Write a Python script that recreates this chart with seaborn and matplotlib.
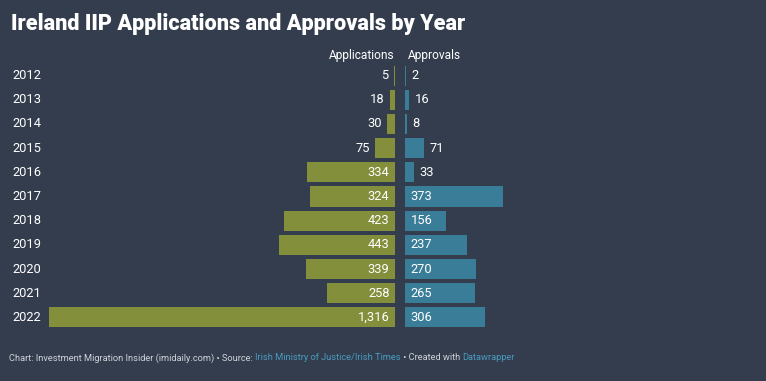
import matplotlib
matplotlib.use('Agg')
import matplotlib.pyplot as plt
import seaborn as sns
import pandas as pd

# data
years = ['2012', '2013', '2014', '2015', '2016', '2017', '2018', '2019', '2020', '2021', '2022']
applications = [5, 18, 30, 75, 334, 324, 423, 443, 339, 258, 1316]
approvals = [2, 16, 8, 71, 33, 373, 156, 237, 270, 265, 306]

BG = '#333d4d'
OLIVE = '#848f3c'
TEAL = '#3a7d98'
TXT = '#ffffff'
FOOT = '#cfd3d9'
LINK = '#4a9bc0'

sns.set_theme(style='white')
plt.rcParams['font.family'] = ['Roboto', 'DejaVu Sans']

df = pd.DataFrame({'year': years, 'applications': applications, 'approvals': approvals})

W, H = 766, 381
fig = plt.figure(figsize=(W / 100, H / 100), dpi=100)
fig.patch.set_facecolor(BG)

# two mirrored axes sharing the same scale
xmax = 1316
top, bottom = 63.5, 329.5
ax_b = (H - bottom) / H
ax_h = (bottom - top) / H
ax_l = fig.add_axes([49 / W, ax_b, (395 - 49) / W, ax_h])
ax_r = fig.add_axes([405 / W, ax_b, (395 - 49) / W, ax_h])

sns.barplot(data=df, y='year', x='applications', color=OLIVE, saturation=1,
            width=0.83, linewidth=0, ax=ax_l, orient='h')
sns.barplot(data=df, y='year', x='approvals', color=TEAL, saturation=1,
            width=0.83, linewidth=0, ax=ax_r, orient='h')

ax_l.set_xlim(xmax, 0)
ax_r.set_xlim(0, xmax)
for ax in (ax_l, ax_r):
    ax.set_ylim(10.5, -0.5)
    ax.set_facecolor('none')
    ax.axis('off')

fs = 9.3
# value labels: inside the bar when it is wide enough, outside otherwise
for i, v in enumerate(applications):
    x = 0 if v > 100 else v
    ax_l.annotate(f'{v:,}', (x, i), xytext=(-4, 0), textcoords='offset points',
                  ha='right', va='center', color=TXT, fontsize=fs)

for i, v in enumerate(approvals):
    x = 0 if v > 100 else v
    ax_r.annotate(f'{v:,}', (x, i), xytext=(4, 0), textcoords='offset points',
                  ha='left', va='center', color=TXT, fontsize=fs)

# year labels
for i, y in enumerate(years):
    ax_l.annotate(y, xy=(12 / W, i), xycoords=(fig.transFigure, ax_l.transData),
                  ha='left', va='center', color=TXT, fontsize=fs)

# column headers
fig.text(395 / W, 1 - 55 / H, 'Applications', ha='right', va='center', color=TXT, fontsize=8.6)
fig.text(408 / W, 1 - 55 / H, 'Approvals', ha='left', va='center', color=TXT, fontsize=8.6)

# title
fig.text(11 / W, 1 - 24 / H, 'Ireland IIP Applications and Approvals by Year',
         ha='left', va='center', color=TXT, fontsize=15.6, fontweight='heavy')

# footer with coloured link parts, chained one after another
parts = [('Chart: Investment Migration Insider (imidaily.com) • Source: ', FOOT),
         ('Irish Ministry of Justice/Irish Times', LINK),
         (' • Created with ', FOOT),
         ('Datawrapper', LINK)]
ffs = 6.7
last = fig.text(9 / W, 1 - 358 / H, parts[0][0], ha='left', va='center',
                color=parts[0][1], fontsize=ffs)
for txt, col in parts[1:]:
    last = fig.add_artist(matplotlib.text.Annotation(
        txt, xy=(1, 0.5), xycoords=last, ha='left', va='center', color=col,
        fontsize=ffs, annotation_clip=False))

fig.savefig('out.png', dpi=100, facecolor=BG)
